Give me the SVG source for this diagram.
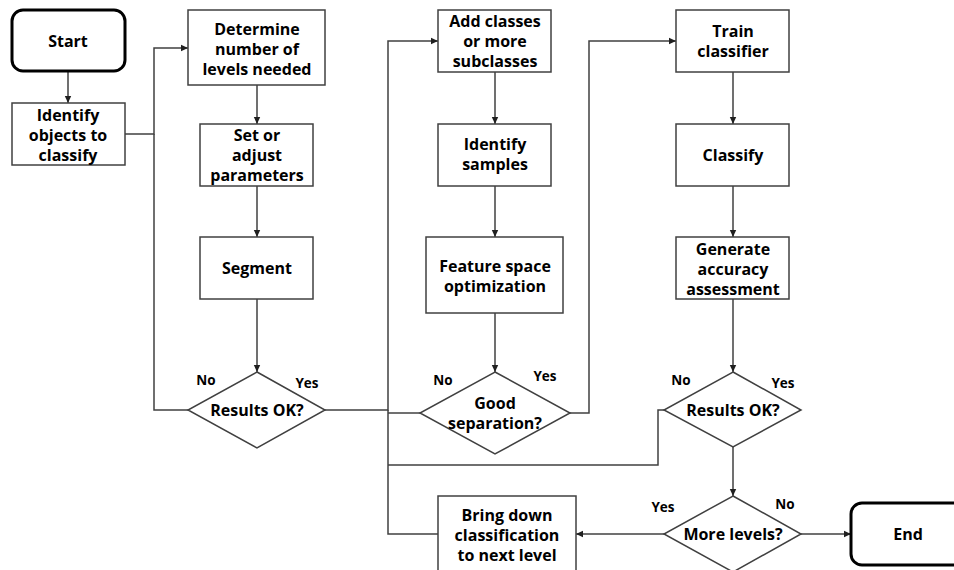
<svg xmlns="http://www.w3.org/2000/svg" width="954" height="570" viewBox="0 0 954 570">
<style>
.box{fill:#fff;stroke:#404040;stroke-width:1.5}
.term{fill:#fff;stroke:#000;stroke-width:3}
.t{font-family:"Open Sans","Liberation Sans",sans-serif;font-weight:bold;font-size:16px;fill:#000;text-anchor:middle}
.l{font-family:"Open Sans","Liberation Sans",sans-serif;font-weight:bold;font-size:13.5px;fill:#000;text-anchor:middle}
.c{fill:none;stroke:#404040;stroke-width:1.5}
</style>
<defs>
<marker id="arr" markerUnits="userSpaceOnUse" markerWidth="8" markerHeight="8" refX="7" refY="4" orient="auto">
<path d="M0,0.8 L7,4 L0,7.2 Z" fill="#202020"/>
</marker>
</defs>
<rect width="954" height="570" fill="#fff"/>
<g id="connectors">
<path class="c" d="M68,71 V103" marker-end="url(#arr)"/>
<path class="c" d="M125,134 H154 V48 H188" marker-end="url(#arr)"/>
<path class="c" d="M188,410 H154 V134"/>
<path class="c" d="M257,85 V124" marker-end="url(#arr)"/>
<path class="c" d="M257,186 V237" marker-end="url(#arr)"/>
<path class="c" d="M257,299 V372" marker-end="url(#arr)"/>
<path class="c" d="M325,410 H388 V41 H438" marker-end="url(#arr)"/>
<path class="c" d="M438,534 H388 V410"/>
<path class="c" d="M420,413 H388"/>
<path class="c" d="M495,72 V124" marker-end="url(#arr)"/>
<path class="c" d="M495,186 V237" marker-end="url(#arr)"/>
<path class="c" d="M495,313 V372" marker-end="url(#arr)"/>
<path class="c" d="M570,413 H589 V41 H676" marker-end="url(#arr)"/>
<path class="c" d="M733,72 V124" marker-end="url(#arr)"/>
<path class="c" d="M733,186 V237" marker-end="url(#arr)"/>
<path class="c" d="M733,299 V372" marker-end="url(#arr)"/>
<path class="c" d="M664,410 H658 V465 H388"/>
<path class="c" d="M733,447 V496" marker-end="url(#arr)"/>
<path class="c" d="M664,534 H576" marker-end="url(#arr)"/>
<path class="c" d="M801,534 H851" marker-end="url(#arr)"/>
</g>
<g id="start">
<rect class="term" x="12" y="10" width="113" height="61" rx="11"/>
<text class="t" x="68" y="47">Start</text>
</g>
<g id="identify-objects">
<rect class="box" x="12" y="103" width="113" height="62"/>
<text class="t" x="68" y="121">Identify</text>
<text class="t" x="68" y="141">objects to</text>
<text class="t" x="68" y="161">classify</text>
</g>
<g id="determine-levels">
<rect class="box" x="188" y="10" width="137" height="75"/>
<text class="t" x="257" y="35">Determine</text>
<text class="t" x="257" y="55">number of</text>
<text class="t" x="257" y="75">levels needed</text>
</g>
<g id="set-parameters">
<rect class="box" x="200" y="124" width="113" height="62"/>
<text class="t" x="257" y="141">Set or</text>
<text class="t" x="257" y="161">adjust</text>
<text class="t" x="257" y="181">parameters</text>
</g>
<g id="segment">
<rect class="box" x="200" y="237" width="113" height="62"/>
<text class="t" x="257" y="274">Segment</text>
</g>
<g id="results-ok-1">
<polygon class="box" points="257,372 325,410 257,448 188,410"/>
<text class="t" x="257" y="416">Results OK?</text>
<text class="l" x="206" y="385">No</text>
<text class="l" x="307" y="388">Yes</text>
</g>
<g id="add-classes">
<rect class="box" x="438" y="10" width="113" height="62"/>
<text class="t" x="495" y="27">Add classes</text>
<text class="t" x="495" y="47">or more</text>
<text class="t" x="495" y="67">subclasses</text>
</g>
<g id="identify-samples">
<rect class="box" x="438" y="124" width="113" height="62"/>
<text class="t" x="495" y="150">Identify</text>
<text class="t" x="495" y="170">samples</text>
</g>
<g id="feature-space">
<rect class="box" x="426" y="237" width="137" height="76"/>
<text class="t" x="495" y="272">Feature space</text>
<text class="t" x="495" y="292">optimization</text>
</g>
<g id="good-separation">
<polygon class="box" points="495,372 570,413 495,454 420,413"/>
<text class="t" x="495" y="409">Good</text>
<text class="t" x="495" y="429">separation?</text>
<text class="l" x="443" y="385">No</text>
<text class="l" x="545" y="381">Yes</text>
</g>
<g id="train-classifier">
<rect class="box" x="676" y="10" width="113" height="62"/>
<text class="t" x="733" y="37">Train</text>
<text class="t" x="733" y="57">classifier</text>
</g>
<g id="classify">
<rect class="box" x="676" y="124" width="113" height="62"/>
<text class="t" x="733" y="161">Classify</text>
</g>
<g id="accuracy-assessment">
<rect class="box" x="676" y="237" width="113" height="62"/>
<text class="t" x="733" y="255">Generate</text>
<text class="t" x="733" y="275">accuracy</text>
<text class="t" x="733" y="295">assessment</text>
</g>
<g id="results-ok-2">
<polygon class="box" points="733,372 801,410 733,447 664,410"/>
<text class="t" x="733" y="416">Results OK?</text>
<text class="l" x="681" y="385">No</text>
<text class="l" x="783" y="388">Yes</text>
</g>
<g id="more-levels">
<polygon class="box" points="733,496 801,534 733,572 664,534"/>
<text class="t" x="733" y="540">More levels?</text>
<text class="l" x="663" y="512">Yes</text>
<text class="l" x="785" y="509">No</text>
</g>
<g id="bring-down">
<rect class="box" x="438" y="496" width="138" height="90"/>
<text class="t" x="507" y="521">Bring down</text>
<text class="t" x="507" y="541">classification</text>
<text class="t" x="507" y="561">to next level</text>
</g>
<g id="end">
<rect class="term" x="851" y="503" width="115" height="62" rx="11"/>
<text class="t" x="908" y="540">End</text>
</g>
</svg>
